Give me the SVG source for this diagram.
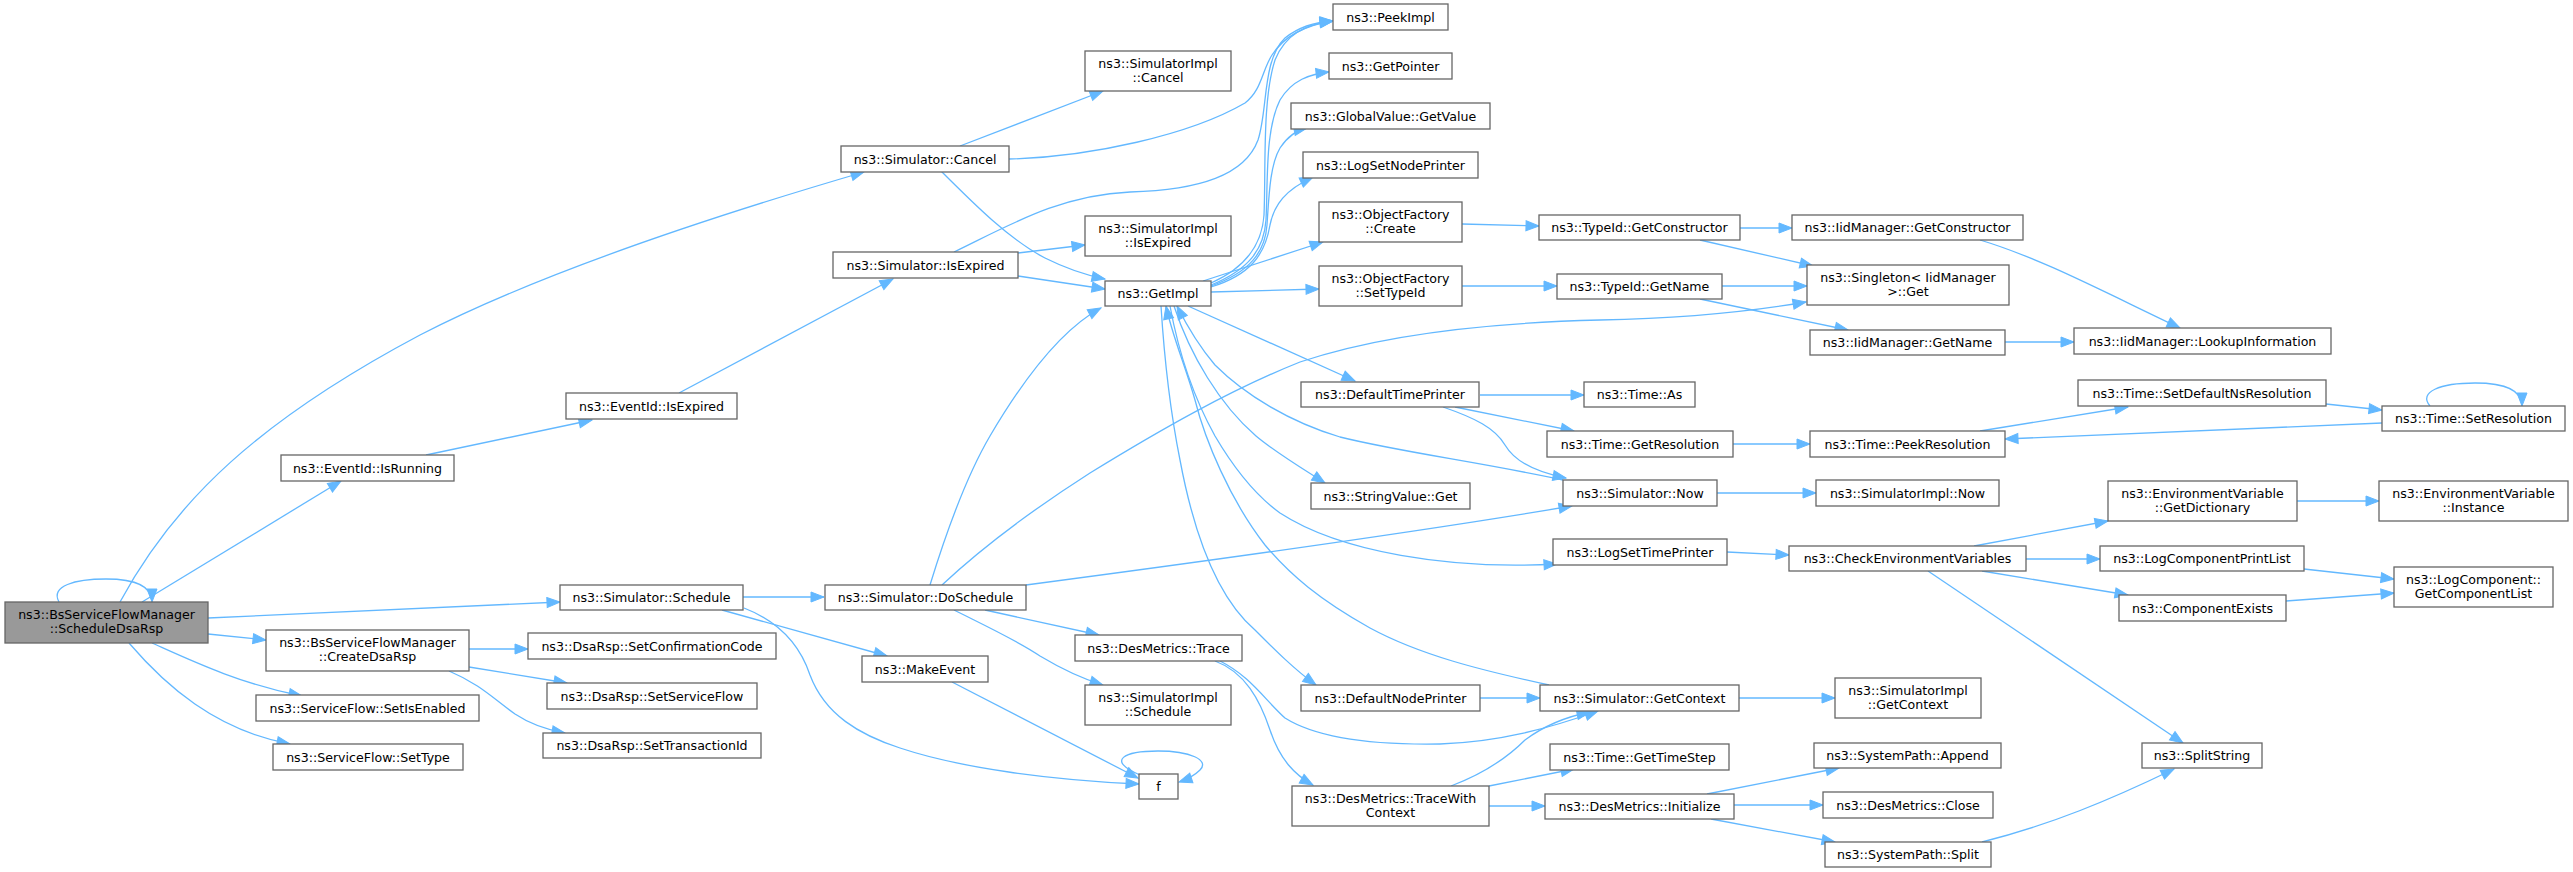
<svg xmlns="http://www.w3.org/2000/svg" width="2573" height="872" viewBox="0 0 2573 872">
<style>
.n rect{fill:#fff;stroke:#666;stroke-width:1.3}
.root rect{fill:#999;stroke:#666;stroke-width:1.3}
text{font-family:"DejaVu Sans","Noto Sans",sans-serif;font-size:12.6px;text-anchor:middle;fill:#000}
.e path{fill:none;stroke:#63b8ff;stroke-width:1.3;marker-end:url(#a)}
</style>
<defs>
<marker id="a" markerUnits="userSpaceOnUse" markerWidth="14" markerHeight="11" refX="13" refY="5" orient="auto" overflow="visible">
<path d="M0,0 L13,5 L0,10 z" fill="#63b8ff" stroke="#63b8ff" stroke-width="1"/>
</marker>
</defs>
<rect width="2573" height="872" fill="#fff"/>
<g id="edges" class="e">
<path d="M59,602 C50,586 75,579 106,579 C135,579 152,586 152,602"/>
<path d="M120,602 C175,500 260,420 420,335 C530,278 700,220 864,172"/>
<path d="M142,602 L341,481"/>
<path d="M208,618 L560,602"/>
<path d="M208,634 L266,640"/>
<path d="M152,643 C190,660 240,684 302,696"/>
<path d="M129,643 C165,685 215,730 290,744"/>
<path d="M469,649 L528,649"/>
<path d="M469,667 L567,683"/>
<path d="M449,671 C480,684 495,700 515,714 C530,724 548,730 565,733"/>
<path d="M426,455 L592,420"/>
<path d="M679,393 L893,279"/>
<path d="M960,146 L1103,91"/>
<path d="M1009,159 C1090,157 1190,135 1245,103 C1262,90 1262,70 1272,55 C1285,35 1305,25 1333,21"/>
<path d="M941,171 C975,205 1010,240 1045,258 C1065,268 1085,275 1105,279"/>
<path d="M1018,253 L1085,245"/>
<path d="M1018,276 L1105,289"/>
<path d="M954,252 C1010,225 1060,195 1130,192 C1200,190 1245,175 1258,140 C1268,110 1262,60 1285,38 C1300,26 1315,22 1333,21"/>
<path d="M1211,283 C1245,268 1262,245 1264,215 C1266,170 1262,100 1275,60 C1285,35 1305,24 1333,21"/>
<path d="M1211,285 C1248,270 1264,250 1266,220 C1268,180 1265,130 1280,100 C1292,80 1310,74 1329,72"/>
<path d="M1211,286 C1250,272 1265,252 1267,225 C1269,195 1270,165 1280,148 C1288,136 1297,130 1307,128"/>
<path d="M1211,287 C1250,275 1265,255 1270,225 C1274,205 1285,190 1313,177"/>
<path d="M1203,281 L1323,242"/>
<path d="M1211,292 L1319,289"/>
<path d="M743,597 L824,597"/>
<path d="M722,610 L887,656"/>
<path d="M744,608 C780,622 800,645 810,675 C825,715 860,735 900,748 C960,768 1050,780 1139,784"/>
<path d="M952,682 L1138,778"/>
<path d="M1140,775 C1105,760 1125,751 1158,751 C1190,751 1210,760 1200,770 C1195,775 1188,779 1179,782"/>
<path d="M930,585 C950,520 970,470 990,436 C1020,385 1060,330 1101,308"/>
<path d="M942,585 C990,540 1040,505 1090,473 C1160,430 1230,390 1300,362 C1380,335 1480,323 1600,320 C1700,318 1760,310 1806,302"/>
<path d="M1026,585 C1200,562 1400,535 1572,506"/>
<path d="M985,610 L1099,635"/>
<path d="M954,610 C990,628 1020,642 1040,656 C1060,668 1080,678 1103,685"/>
<path d="M1215,661 C1245,672 1260,700 1270,730 C1280,760 1295,775 1313,785"/>
<path d="M1220,661 C1250,676 1265,700 1285,718 C1320,740 1380,745 1440,744 C1500,742 1550,728 1598,711"/>
<path d="M1451,786 C1480,775 1505,760 1525,740 C1545,725 1565,717 1590,712"/>
<path d="M1489,786 L1574,769"/>
<path d="M1489,806 L1545,806"/>
<path d="M1707,794 L1839,768"/>
<path d="M1734,805 L1823,805"/>
<path d="M1711,819 L1835,842"/>
<path d="M1982,842 C2050,825 2110,800 2174,769"/>
<path d="M1480,698 L1540,698"/>
<path d="M1739,698 L1835,698"/>
<path d="M1549,685 C1480,670 1420,655 1370,628 C1320,600 1290,575 1265,545 C1230,500 1205,440 1195,400 C1185,365 1172,335 1166,306"/>
<path d="M1161,306 C1165,370 1172,420 1180,460 C1195,540 1220,600 1255,630 C1275,650 1295,670 1316,685"/>
<path d="M1170,306 C1180,360 1195,400 1215,436 C1235,470 1255,495 1280,513 C1340,552 1450,570 1557,564"/>
<path d="M1174,306 C1190,355 1220,405 1256,436 C1275,452 1300,467 1325,483"/>
<path d="M1563,480 C1480,462 1400,452 1340,437 C1290,422 1245,395 1215,365 C1198,345 1188,328 1177,306"/>
<path d="M1188,306 L1355,381"/>
<path d="M1480,395 L1584,395"/>
<path d="M1455,407 L1574,431"/>
<path d="M1443,407 C1475,418 1495,428 1505,445 C1515,462 1535,472 1566,478"/>
<path d="M1462,224 L1539,226"/>
<path d="M1462,286 L1557,286"/>
<path d="M1740,228 L1792,228"/>
<path d="M1700,240 L1813,266"/>
<path d="M1722,286 L1807,286"/>
<path d="M1700,299 L1848,330"/>
<path d="M1980,240 C2040,258 2100,290 2180,328"/>
<path d="M2005,342 L2074,342"/>
<path d="M1733,444 L1810,444"/>
<path d="M1980,431 L2128,407"/>
<path d="M2326,404 L2382,410"/>
<path d="M2382,423 L2005,439"/>
<path d="M2430,406 C2418,392 2440,383 2475,383 C2505,383 2522,390 2522,406"/>
<path d="M1717,493 L1816,493"/>
<path d="M1727,552 L1789,555"/>
<path d="M1974,546 L2108,521"/>
<path d="M2026,559 L2100,559"/>
<path d="M1982,571 L2128,595"/>
<path d="M1928,571 L2183,743"/>
<path d="M2297,501 L2379,501"/>
<path d="M2304,569 L2394,579"/>
<path d="M2286,601 L2394,593"/>
</g>
<g id="root" class="root"><rect x="5" y="602" width="203" height="41"/><text x="106.5" y="618.5">ns3::BsServiceFlowManager</text><text x="106.5" y="632.5">::ScheduleDsaRsp</text></g>
<g id="isrunning" class="n"><rect x="281" y="455" width="173" height="26"/><text x="367.5" y="472.6">ns3::EventId::IsRunning</text></g>
<g id="evexpired" class="n"><rect x="566" y="393" width="171" height="26"/><text x="651.5" y="410.6">ns3::EventId::IsExpired</text></g>
<g id="simcancel" class="n"><rect x="841" y="146" width="168" height="26"/><text x="925" y="163.6">ns3::Simulator::Cancel</text></g>
<g id="implcancel" class="n"><rect x="1085" y="51" width="146" height="40"/><text x="1158" y="67.5">ns3::SimulatorImpl</text><text x="1158" y="81.5">::Cancel</text></g>
<g id="simexpired" class="n"><rect x="833" y="252" width="185" height="26"/><text x="925.5" y="269.6">ns3::Simulator::IsExpired</text></g>
<g id="implexpired" class="n"><rect x="1085" y="216" width="146" height="40"/><text x="1158" y="232.5">ns3::SimulatorImpl</text><text x="1158" y="246.5">::IsExpired</text></g>
<g id="getimpl" class="n"><rect x="1105" y="281" width="106" height="25"/><text x="1158" y="298.1">ns3::GetImpl</text></g>
<g id="schedule" class="n"><rect x="560" y="585" width="183" height="25"/><text x="651.5" y="602.1">ns3::Simulator::Schedule</text></g>
<g id="create" class="n"><rect x="266" y="630" width="203" height="41"/><text x="367.5" y="646.5">ns3::BsServiceFlowManager</text><text x="367.5" y="660.5">::CreateDsaRsp</text></g>
<g id="setconf" class="n"><rect x="528" y="633" width="248" height="26"/><text x="652" y="650.6">ns3::DsaRsp::SetConfirmationCode</text></g>
<g id="setsf" class="n"><rect x="547" y="683" width="210" height="26"/><text x="652" y="700.6">ns3::DsaRsp::SetServiceFlow</text></g>
<g id="settid" class="n"><rect x="543" y="733" width="218" height="25"/><text x="652" y="750.1">ns3::DsaRsp::SetTransactionId</text></g>
<g id="setenabled" class="n"><rect x="256" y="695" width="223" height="26"/><text x="367.5" y="712.6">ns3::ServiceFlow::SetIsEnabled</text></g>
<g id="settype" class="n"><rect x="273" y="744" width="190" height="26"/><text x="368" y="761.6">ns3::ServiceFlow::SetType</text></g>
<g id="doschedule" class="n"><rect x="825" y="585" width="201" height="25"/><text x="925.5" y="602.1">ns3::Simulator::DoSchedule</text></g>
<g id="makeevent" class="n"><rect x="862" y="656" width="126" height="26"/><text x="925" y="673.6">ns3::MakeEvent</text></g>
<g id="trace" class="n"><rect x="1075" y="635" width="167" height="26"/><text x="1158.5" y="652.6">ns3::DesMetrics::Trace</text></g>
<g id="implschedule" class="n"><rect x="1085" y="685" width="146" height="40"/><text x="1158" y="701.5">ns3::SimulatorImpl</text><text x="1158" y="715.5">::Schedule</text></g>
<g id="f" class="n"><rect x="1139" y="774" width="39" height="25"/><text x="1158.5" y="791.1">f</text></g>
<g id="peekimpl" class="n"><rect x="1333" y="4" width="115" height="26"/><text x="1390.5" y="21.6">ns3::PeekImpl</text></g>
<g id="getpointer" class="n"><rect x="1329" y="53" width="123" height="26"/><text x="1390.5" y="70.6">ns3::GetPointer</text></g>
<g id="getvalue" class="n"><rect x="1291" y="103" width="199" height="26"/><text x="1390.5" y="120.6">ns3::GlobalValue::GetValue</text></g>
<g id="lognode" class="n"><rect x="1303" y="152" width="175" height="26"/><text x="1390.5" y="169.6">ns3::LogSetNodePrinter</text></g>
<g id="ofcreate" class="n"><rect x="1319" y="202" width="143" height="40"/><text x="1390.5" y="218.5">ns3::ObjectFactory</text><text x="1390.5" y="232.5">::Create</text></g>
<g id="ofsettype" class="n"><rect x="1319" y="266" width="143" height="40"/><text x="1390.5" y="282.5">ns3::ObjectFactory</text><text x="1390.5" y="296.5">::SetTypeId</text></g>
<g id="tidctor" class="n"><rect x="1539" y="215" width="201" height="25"/><text x="1639.5" y="232.1">ns3::TypeId::GetConstructor</text></g>
<g id="tidname" class="n"><rect x="1557" y="274" width="165" height="25"/><text x="1639.5" y="291.1">ns3::TypeId::GetName</text></g>
<g id="iidctor" class="n"><rect x="1792" y="215" width="231" height="25"/><text x="1907.5" y="232.1">ns3::IidManager::GetConstructor</text></g>
<g id="singleton" class="n"><rect x="1807" y="265" width="202" height="40"/><text x="1908" y="281.5">ns3::Singleton&lt; IidManager</text><text x="1908" y="295.5"> &gt;::Get</text></g>
<g id="iidname" class="n"><rect x="1810" y="330" width="195" height="25"/><text x="1907.5" y="347.1">ns3::IidManager::GetName</text></g>
<g id="lookup" class="n"><rect x="2074" y="328" width="257" height="26"/><text x="2202.5" y="345.6">ns3::IidManager::LookupInformation</text></g>
<g id="dtp" class="n"><rect x="1301" y="382" width="178" height="25"/><text x="1390" y="399.1">ns3::DefaultTimePrinter</text></g>
<g id="timeas" class="n"><rect x="1584" y="382" width="111" height="25"/><text x="1639.5" y="399.1">ns3::Time::As</text></g>
<g id="getres" class="n"><rect x="1547" y="431" width="186" height="26"/><text x="1640" y="448.6">ns3::Time::GetResolution</text></g>
<g id="peekres" class="n"><rect x="1810" y="431" width="195" height="26"/><text x="1907.5" y="448.6">ns3::Time::PeekResolution</text></g>
<g id="setdefns" class="n"><rect x="2078" y="380" width="248" height="26"/><text x="2202" y="397.6">ns3::Time::SetDefaultNsResolution</text></g>
<g id="setres" class="n"><rect x="2382" y="406" width="183" height="25"/><text x="2473.5" y="423.1">ns3::Time::SetResolution</text></g>
<g id="strget" class="n"><rect x="1311" y="483" width="159" height="26"/><text x="1390.5" y="500.6">ns3::StringValue::Get</text></g>
<g id="simnow" class="n"><rect x="1563" y="480" width="154" height="26"/><text x="1640" y="497.6">ns3::Simulator::Now</text></g>
<g id="implnow" class="n"><rect x="1816" y="480" width="183" height="26"/><text x="1907.5" y="497.6">ns3::SimulatorImpl::Now</text></g>
<g id="logtime" class="n"><rect x="1553" y="539" width="174" height="26"/><text x="1640" y="556.6">ns3::LogSetTimePrinter</text></g>
<g id="checkenv" class="n"><rect x="1789" y="546" width="237" height="25"/><text x="1907.5" y="563.1">ns3::CheckEnvironmentVariables</text></g>
<g id="getdict" class="n"><rect x="2108" y="481" width="189" height="40"/><text x="2202.5" y="497.5">ns3::EnvironmentVariable</text><text x="2202.5" y="511.5">::GetDictionary</text></g>
<g id="instance" class="n"><rect x="2379" y="481" width="189" height="40"/><text x="2473.5" y="497.5">ns3::EnvironmentVariable</text><text x="2473.5" y="511.5">::Instance</text></g>
<g id="logprint" class="n"><rect x="2100" y="546" width="204" height="25"/><text x="2202" y="563.1">ns3::LogComponentPrintList</text></g>
<g id="complist" class="n"><rect x="2394" y="567" width="159" height="40"/><text x="2473.5" y="583.5">ns3::LogComponent::</text><text x="2473.5" y="597.5">GetComponentList</text></g>
<g id="compexists" class="n"><rect x="2119" y="595" width="167" height="26"/><text x="2202.5" y="612.6">ns3::ComponentExists</text></g>
<g id="splitstring" class="n"><rect x="2142" y="743" width="120" height="25"/><text x="2202" y="760.1">ns3::SplitString</text></g>
<g id="dnp" class="n"><rect x="1301" y="685" width="179" height="26"/><text x="1390.5" y="702.6">ns3::DefaultNodePrinter</text></g>
<g id="getctx" class="n"><rect x="1540" y="685" width="199" height="26"/><text x="1639.5" y="702.6">ns3::Simulator::GetContext</text></g>
<g id="implctx" class="n"><rect x="1835" y="678" width="146" height="40"/><text x="1908" y="694.5">ns3::SimulatorImpl</text><text x="1908" y="708.5">::GetContext</text></g>
<g id="timestep" class="n"><rect x="1550" y="744" width="179" height="26"/><text x="1639.5" y="761.6">ns3::Time::GetTimeStep</text></g>
<g id="tracectx" class="n"><rect x="1292" y="786" width="197" height="40"/><text x="1390.5" y="802.5">ns3::DesMetrics::TraceWith</text><text x="1390.5" y="816.5">Context</text></g>
<g id="initialize" class="n"><rect x="1545" y="794" width="189" height="25"/><text x="1639.5" y="811.1">ns3::DesMetrics::Initialize</text></g>
<g id="append" class="n"><rect x="1814" y="743" width="187" height="25"/><text x="1907.5" y="760.1">ns3::SystemPath::Append</text></g>
<g id="close" class="n"><rect x="1823" y="792" width="170" height="26"/><text x="1908" y="809.6">ns3::DesMetrics::Close</text></g>
<g id="split" class="n"><rect x="1825" y="842" width="166" height="25"/><text x="1908" y="859.1">ns3::SystemPath::Split</text></g>
</svg>
